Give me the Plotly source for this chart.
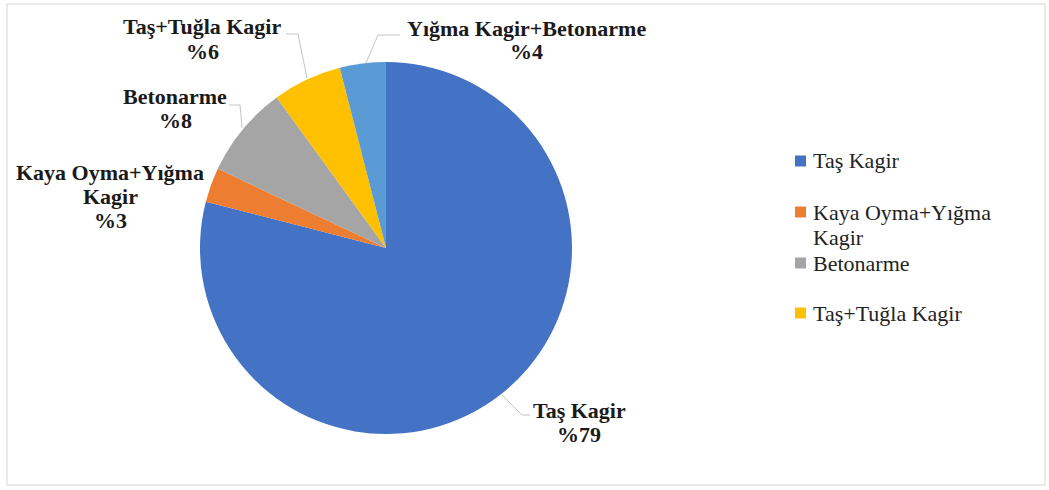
import plotly.graph_objects as go

etiketler = ['Taş Kagir', 'Kaya Oyma+Yığma Kagir', 'Betonarme', 'Taş+Tuğla Kagir', 'Yığma Kagir+Betonarme']
yuzdeler = [79, 3, 8, 6, 4]
renkler = ['#4472C4', '#ED7D31', '#A5A5A5', '#FFC000', '#5B9BD5']

W, H = 1049, 490

fig = go.Figure(go.Pie(
    labels=etiketler,
    values=yuzdeler,
    marker=dict(colors=renkler, line=dict(width=0)),
    sort=False,
    direction='clockwise',
    rotation=0,
    textinfo='none',
    hoverinfo='label+percent',
    showlegend=False,
    domain=dict(x=[200 / W, 572 / W], y=[(H - 434) / H, (H - 62) / H]),
))

# dilim etiketleri (dışarıda, kılavuz çizgili) - satır satır, satır aralığı 24px
satir = 24
etiket_yer = [
    (579, 422, ['Taş Kagir', '%' + str(yuzdeler[0])]),
    (110, 196, ['Kaya Oyma+Yığma', 'Kagir', '%' + str(yuzdeler[1])]),
    (175, 109, ['Betonarme', '%' + str(yuzdeler[2])]),
    (202, 39, ['Taş+Tuğla Kagir', '%' + str(yuzdeler[3])]),
    (526, 40, ['Yığma Kagir+Betonarme', '%' + str(yuzdeler[4])]),
]
for x, y, satirlar in etiket_yer:
    n = len(satirlar)
    for k, t in enumerate(satirlar):
        yy = y + (k - (n - 1) / 2) * satir
        fig.add_annotation(x=x / W, y=1 - yy / H, xref='paper', yref='paper', text='<b>' + t + '</b>',
                           showarrow=False, xanchor='center', yanchor='middle',
                           font=dict(family='Liberation Serif', size=22, color='#1a1a1a'))

kilavuz = [
    'M 502 395 L 522 415 L 530 415',
    'M 242 128 L 240 105 L 229 105',
    'M 307 78 L 298 34 L 286 34',
    'M 366 63 L 378 35 L 400 35',
]
for p in kilavuz:
    fig.add_shape(type='path', path=p, xref='x', yref='y', line=dict(color='#c4c4c4', width=1))

# gösterge
gosterge = [(161, 0, ['Taş Kagir']), (212, 1, ['Kaya Oyma+Yığma', 'Kagir']),
            (263, 2, ['Betonarme']), (313, 3, ['Taş+Tuğla Kagir'])]
for y, i, satirlar in gosterge:
    fig.add_shape(type='rect', xref='x', yref='y', x0=795, x1=806, y0=y - 5.5, y1=y + 5.5,
                  fillcolor=renkler[i], line=dict(width=0))
    for k, t in enumerate(satirlar):
        fig.add_annotation(x=811 / W, y=1 - (y + k * 25) / H, xref='paper', yref='paper', text=t,
                           showarrow=False, xanchor='left', yanchor='middle', align='left',
                           font=dict(family='Liberation Serif', size=22, color='#222222'))

# çerçeve
fig.add_shape(type='rect', xref='x', yref='y', x0=7, x1=1045, y0=4, y1=485,
              line=dict(color='#e3e3e3', width=1.5))

fig.update_xaxes(range=[0, W], visible=False, fixedrange=True)
fig.update_yaxes(range=[H, 0], visible=False, fixedrange=True)
fig.update_layout(
    width=W, height=H,
    margin=dict(l=0, r=0, t=0, b=0),
    paper_bgcolor='white', plot_bgcolor='rgba(0,0,0,0)',
    showlegend=False,
)

fig.write_html('out.html', config={'displayModeBar': False},
               post_script="document.body.style.margin='0';")
